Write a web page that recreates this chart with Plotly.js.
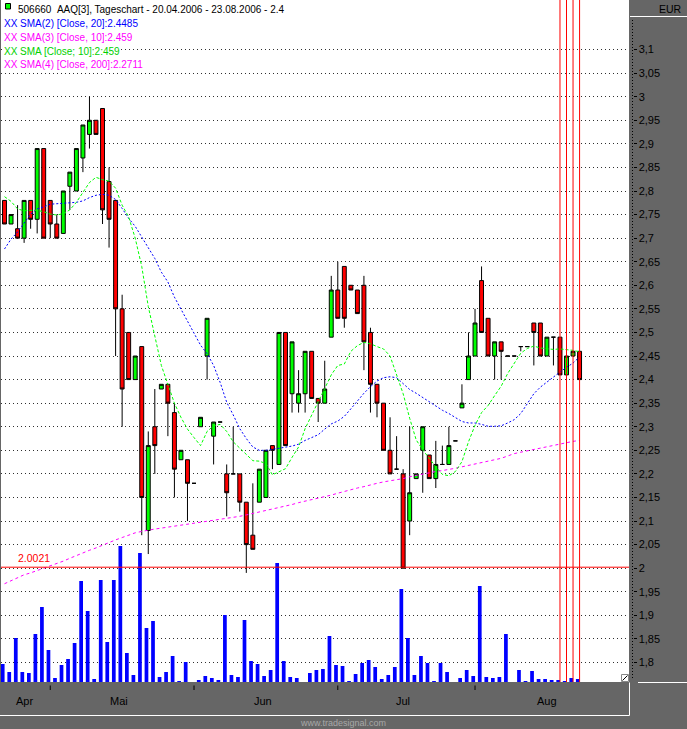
<!DOCTYPE html>
<html><head><meta charset="utf-8">
<script src="https://cdn.plot.ly/plotly-3.0.1.min.js"></script>
<style>html,body{margin:0;padding:0;background:#666666;overflow:hidden}#chart{width:687px;height:729px}</style>
</head><body><div id="chart"></div>
<script>
// ---- trading days (Xetra, 20.04.2006 - 23.08.2006) ----
const daysApr = [20,21,24,25,26,27,28];
const daysMai = [2,3,4,5,8,9,10,11,12,15,16,17,18,19,22,23,24,25,26,29,30,31];
const daysJun = [1,2,5,6,7,8,9,12,13,14,15,16,19,20,21,22,23,26,27,28,29,30];
const daysJul = [3,4,5,6,7,10,11,12,13,14,17,18,19,20,21,24,25,26,27,28,31];
const daysAug = [1,2,3,4,7,8,9,10,11,14,15,16,17,18,21,22,23];
const monthNames = ['Apr','Mai','Jun','Jul','Aug'];

// ---- OHLC (EUR) ----
const openP = [2.78,2.73,2.72,2.70,2.78,2.74,2.89,2.78,2.73,2.71,
 2.81,2.80,2.87,2.92,2.95,2.975,2.82,2.78,2.55,2.50,
 2.40,2.47,2.08,2.30,2.38,2.39,2.33,2.23,2.23,2.18,
 2.30,2.45,2.28,2.31,2.20,2.20,2.20,2.14,2.07,2.14,
 2.15,2.26,2.22,2.50,2.37,2.35,2.37,2.46,2.36,2.35,
 2.49,2.59,2.64,2.60,2.59,2.60,2.50,2.39,2.35,2.25,
 2.21,2.20,2.10,2.19,2.25,2.24,2.19,2.22,2.22,2.27,
 2.34,2.40,2.45,2.61,2.53,2.45,2.48,2.45,2.45,2.47,
 2.47,2.52,2.52,2.45,2.49,2.49,2.41,2.45,2.46];
const highP = [2.78,2.75,2.77,2.78,2.78,2.89,2.89,2.78,2.75,2.80,
 2.84,2.89,2.94,3.00,2.95,2.975,2.85,2.78,2.58,2.50,
 2.45,2.47,2.29,2.38,2.39,2.39,2.35,2.25,2.23,2.18,
 2.32,2.53,2.31,2.31,2.22,2.30,2.20,2.14,2.18,2.21,
 2.25,2.26,2.50,2.50,2.48,2.42,2.46,2.46,2.36,2.44,
 2.62,2.65,2.64,2.60,2.59,2.62,2.51,2.39,2.35,2.32,
 2.28,2.21,2.30,2.20,2.30,2.24,2.27,2.26,2.30,2.27,
 2.39,2.50,2.55,2.64,2.53,2.48,2.48,2.45,2.45,2.47,
 2.47,2.52,2.52,2.49,2.49,2.49,2.45,2.46,2.46];
const lowP = [2.73,2.73,2.70,2.69,2.72,2.71,2.70,2.70,2.70,2.71,
 2.76,2.80,2.84,2.89,2.92,2.73,2.68,2.45,2.30,2.40,
 2.40,2.07,2.03,2.20,2.38,2.28,2.15,2.23,2.10,2.18,
 2.30,2.40,2.22,2.31,2.11,2.20,2.12,1.99,2.04,2.14,
 2.15,2.21,2.22,2.26,2.33,2.33,2.33,2.36,2.31,2.35,
 2.49,2.53,2.51,2.59,2.54,2.42,2.33,2.32,2.25,2.20,
 2.21,2.00,2.07,2.19,2.16,2.19,2.17,2.22,2.22,2.27,
 2.34,2.40,2.45,2.50,2.45,2.40,2.40,2.45,2.45,2.46,
 2.47,2.43,2.45,2.45,2.43,2.41,2.41,2.45,2.40];
const closeP = [2.73,2.75,2.70,2.78,2.74,2.89,2.70,2.73,2.70,2.80,
 2.84,2.89,2.94,2.95,2.92,2.76,2.74,2.55,2.38,2.40,
 2.45,2.15,2.26,2.26,2.39,2.35,2.21,2.25,2.18,2.18,
 2.32,2.53,2.31,2.31,2.16,2.20,2.14,2.05,2.04,2.21,
 2.25,2.25,2.50,2.26,2.48,2.37,2.46,2.36,2.35,2.38,
 2.59,2.53,2.53,2.59,2.54,2.48,2.39,2.35,2.25,2.20,
 2.21,2.00,2.16,2.20,2.30,2.19,2.22,2.22,2.26,2.27,
 2.35,2.45,2.52,2.50,2.45,2.48,2.46,2.45,2.45,2.47,
 2.47,2.50,2.45,2.49,2.49,2.41,2.45,2.46,2.40];

// ---- volume (thousand shares) ----
const volumeK = [18,10,44,10,9,48,75,32,4,17,
 23,39,101,71,3,102,40,102,136,29,
 7,129,54,61,5,10,26,1,20,0,
 2,6,4,2,67,7,5,62,21,18,
 6,12,119,21,5,4,0,9,12,13,
 46,17,16,1,8,19,22,15,3,7,
 15,93,44,7,26,19,1,19,10,0,
 4,12,6,96,5,4,5,48,0,12,
 1,11,3,3,2,2,1,4,3];

// ---- moving averages as drawn ----
const sma20 = [2.677,2.698,2.713,2.731,2.751,2.762,2.766,2.772,2.773,2.773,
 2.775,2.776,2.779,2.786,2.791,2.793,2.791,2.782,2.763,2.742,
 2.725,2.703,2.681,2.657,2.628,2.607,2.575,2.550,2.522,2.497,
 2.473,2.455,2.430,2.394,2.352,2.325,2.296,2.275,2.257,2.250,
 2.250,2.252,2.254,2.257,2.259,2.263,2.271,2.277,2.283,2.295,
 2.306,2.312,2.322,2.338,2.355,2.371,2.385,2.397,2.404,2.406,
 2.404,2.392,2.379,2.371,2.362,2.352,2.343,2.335,2.328,2.319,
 2.311,2.308,2.308,2.305,2.301,2.301,2.302,2.308,2.315,2.328,
 2.348,2.370,2.384,2.395,2.407,2.416,2.426,2.435,2.4485];
const sma10 = [2.788,2.778,2.762,2.758,2.759,2.759,2.756,2.751,2.749,2.752,
 2.760,2.776,2.797,2.818,2.829,2.824,2.821,2.806,2.770,2.745,
 2.700,2.640,2.555,2.490,2.430,2.390,2.350,2.320,2.295,2.277,
 2.260,2.290,2.302,2.305,2.290,2.268,2.255,2.240,2.228,2.227,
 2.222,2.198,2.205,2.211,2.235,2.257,2.296,2.326,2.353,2.381,
 2.410,2.430,2.433,2.460,2.472,2.479,2.476,2.470,2.465,2.450,
 2.410,2.370,2.318,2.272,2.251,2.232,2.215,2.199,2.196,2.205,
 2.226,2.268,2.303,2.330,2.345,2.366,2.386,2.413,2.434,2.456,
 2.466,2.471,2.467,2.466,2.464,2.465,2.464,2.462,2.459];
const sma200 = [1.967,1.973,1.980,1.986,1.990,1.995,1.999,2.004,2.010,2.015,
 2.021,2.027,2.032,2.038,2.043,2.049,2.054,2.060,2.065,2.070,
 2.075,2.078,2.081,2.083,2.085,2.087,2.089,2.091,2.093,2.095,
 2.098,2.100,2.102,2.104,2.106,2.108,2.110,2.113,2.116,2.119,
 2.122,2.125,2.128,2.131,2.135,2.139,2.142,2.145,2.148,2.151,
 2.155,2.159,2.163,2.166,2.170,2.173,2.177,2.180,2.183,2.185,
 2.188,2.190,2.194,2.197,2.200,2.202,2.205,2.207,2.209,2.212,
 2.215,2.218,2.220,2.223,2.226,2.229,2.233,2.238,2.243,2.246,
 2.249,2.252,2.255,2.258,2.261,2.264,2.267,2.269,2.271];

// ---- markers / labels ----
const markLevel = 2.0021;
const markLabel = '2.0021';
const markBars = [85,86,87,88];
const priceTicks = [1.8,1.85,1.9,1.95,2,2.05,2.1,2.15,2.2,2.25,2.3,2.35,2.4,2.45,2.5,2.55,2.6,2.65,2.7,2.75,2.8,2.85,2.9,2.95,3,3.05,3.1];
const priceTickText = ['1,8','1,85','1,9','1,95','2','2,05','2,1','2,15','2,2','2,25','2,3','2,35','2,4','2,45','2,5','2,55','2,6','2,65','2,7','2,75','2,8','2,85','2,9','2,95','3','3,05','3,1'];
const headerText = '506660&nbsp;&nbsp;AAQ[3], Tageschart - 20.04.2006 - 23.08.2006 - 2.4';
const legendTexts = ['XX SMA(2) [Close, 20]:2.4485','XX SMA(3) [Close, 10]:2.459','XX SMA [Close; 10]:2:459','XX SMA(4) [Close, 200]:2.2711'];
const legendColors = ['#0000ff','#ff00ff','#00d000','#ff00ff'];

// ---- derived indices ----
const months = [daysApr, daysMai, daysJun, daysJul, daysAug];
const monthStart = []; const monthEnd = [];
let k = 0;
months.forEach(m => { monthStart.push(k); k += m.length; monthEnd.push(k - 1); });
const idx = openP.map((_, i) => i);
// August label is centred on the whole calendar month (23 weekdays)
const labelPos = monthStart.map((s, i) => i === months.length - 1 ? s + (23 - 1) / 2 : (s + monthEnd[i]) / 2);

// ---- geometry ----
const W = 687, H = 729, ML = 1, MR = 47, MT = 0, MB = 47;
const PW = W - ML - MR, PH = H - MT - MB;
const px = x => (x - ML) / PW;
const py = y => (PH + MT - y) / PH;
const plotRight = px(629);
const FONT = 'Liberation Sans, Arial, sans-serif';

const traces = [
  { type: 'bar', x: idx, y: volumeK, yaxis: 'y2', width: 0.57, offset: -0.56,
    marker: { color: '#0000ff', line: { width: 0 } }, hoverinfo: 'skip', showlegend: false },
  { type: 'candlestick', x: idx, open: openP, high: highP, low: lowP, close: closeP,
    whiskerwidth: 0, hoverinfo: 'skip', showlegend: false,
    increasing: { line: { color: '#000000', width: 1 }, fillcolor: '#00ff00' },
    decreasing: { line: { color: '#000000', width: 1 }, fillcolor: '#ff0000' } },
  { type: 'scatter', mode: 'lines', x: idx, y: sma200, line: { color: '#ff00ff', width: 1, dash: '3px,3px' }, hoverinfo: 'skip', showlegend: false },
  { type: 'scatter', mode: 'lines', x: idx, y: sma20, line: { color: '#0000ff', width: 1, dash: '2px,2px' }, hoverinfo: 'skip', showlegend: false },
  { type: 'scatter', mode: 'lines', x: idx, y: sma10, line: { color: '#00ff00', width: 1, dash: '3px,2px' }, hoverinfo: 'skip', showlegend: false }
];

const shapes = [];
shapes.push({ type: 'line', xref: 'paper', yref: 'y', x0: 0, x1: plotRight, y0: markLevel, y1: markLevel, line: { color: '#ff0000', width: 1 } });
markBars.forEach(b => shapes.push({ type: 'line', xref: 'x', yref: 'paper', x0: b, x1: b, y0: 0, y1: 1, line: { color: '#ff0000', width: 1 } }));
monthStart.slice(1).forEach(s => shapes.push({ type: 'line', xref: 'x', yref: 'paper', x0: s, x1: s, y0: py(685.5), y1: py(690), line: { color: '#000', width: 1 } }));
shapes.push({ type: 'line', xref: 'paper', yref: 'paper', x0: px(632.5), x1: px(632.5), y0: py(20), y1: py(679), line: { color: '#000', width: 1, dash: '1px,2px' } });
shapes.push({ type: 'line', xref: 'paper', yref: 'paper', x0: px(630), x1: px(687), y0: py(16.5), y1: py(16.5), line: { color: '#fff', width: 1 } });
shapes.push({ type: 'line', xref: 'paper', yref: 'paper', x0: px(0), x1: px(629.5), y0: py(715.5), y1: py(715.5), line: { color: '#fff', width: 1 } });
shapes.push({ type: 'line', xref: 'paper', yref: 'paper', x0: px(629.5), x1: px(629.5), y0: py(682.5), y1: py(715.5), line: { color: '#fff', width: 1 } });
shapes.push({ type: 'line', xref: 'paper', yref: 'paper', x0: px(638), x1: px(687), y0: py(682.5), y1: py(682.5), line: { color: '#fff', width: 1 } });
shapes.push({ type: 'rect', xref: 'paper', yref: 'paper', x0: px(5.5), x1: px(10.5), y0: py(3.5), y1: py(9), fillcolor: '#00ff00', line: { color: '#000', width: 1 } });
shapes.push({ type: 'rect', xref: 'paper', yref: 'paper', x0: px(621.5), x1: px(628.5), y0: py(674.5), y1: py(681.5), fillcolor: '#ffffff', line: { color: '#888', width: 1 } });
shapes.push({ type: 'line', xref: 'paper', yref: 'paper', x0: px(622.5), x1: px(627.5), y0: py(680.5), y1: py(675.5), line: { color: '#000', width: 1 } });

const annotations = [];
annotations.push({ xref: 'paper', yref: 'paper', x: px(17), y: py(9.5), xanchor: 'left', yanchor: 'middle', text: headerText, showarrow: false, font: { family: FONT, size: 10, color: '#000' }, bgcolor: '#ffffff', borderpad: 0 });
legendTexts.forEach((t, i) => annotations.push({ xref: 'paper', yref: 'paper', x: px(2.5), y: py(23.5 + 13.8 * i), xanchor: 'left', yanchor: 'middle', text: t, showarrow: false, font: { family: FONT, size: 10, color: legendColors[i] }, bgcolor: '#ffffff', borderpad: 0 }));
annotations.push({ xref: 'paper', yref: 'y', x: px(16), y: markLevel, xanchor: 'left', yanchor: 'bottom', yshift: 1, text: markLabel, showarrow: false, font: { family: FONT, size: 10.5, color: '#ff0000' } });
annotations.push({ xref: 'paper', yref: 'paper', x: px(684), y: py(9.5), xanchor: 'right', yanchor: 'middle', text: 'EUR', showarrow: false, font: { family: FONT, size: 10.5, color: '#000' } });
monthNames.forEach((m, i) => annotations.push({ xref: 'x', yref: 'paper', x: labelPos[i], y: py(701), xanchor: 'center', yanchor: 'middle', text: m, showarrow: false, font: { family: FONT, size: 11, color: '#000' } }));
annotations.push({ xref: 'paper', yref: 'paper', x: px(343), y: py(722.5), xanchor: 'center', yanchor: 'middle', text: 'www.tradesignal.com', showarrow: false, font: { family: FONT, size: 9, color: '#a8a8a8' } });

const layout = {
  width: W, height: H,
  margin: { l: ML, r: MR, t: MT, b: MB, pad: 0 },
  paper_bgcolor: '#666666', plot_bgcolor: '#ffffff',
  showlegend: false, boxgap: 0.4, boxgroupgap: 0,
  xaxis: { domain: [0, plotRight], range: [(1 - 4.5) / 6.535, (629 - 4.5) / 6.535], showgrid: false, zeroline: false,
    showticklabels: false, ticks: '', showline: false, rangeslider: { visible: false }, fixedrange: true },
  yaxis: { range: [1.7586, 3.2051], side: 'right', anchor: 'free', position: px(632.5), tickvals: priceTicks, ticktext: priceTickText,
    ticks: 'outside', ticklen: 3, tickcolor: '#000', tickwidth: 1, showline: false, zeroline: false,
    showgrid: true, gridcolor: '#303030', gridwidth: 1, griddash: '1px,3px',
    tickfont: { family: FONT, size: 11, color: '#000' }, fixedrange: true },
  yaxis2: { overlaying: 'y', range: [0, PH], visible: false, fixedrange: true },
  shapes: shapes, annotations: annotations
};

Plotly.newPlot('chart', traces, layout, { staticPlot: true, displayModeBar: false });
</script></body></html>
